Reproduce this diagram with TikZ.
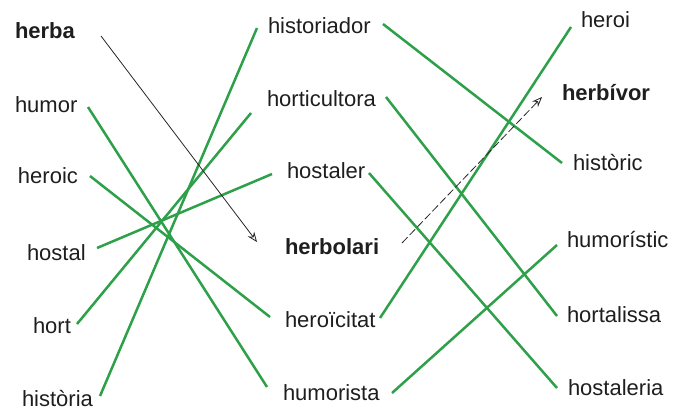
\documentclass[tikz,border=0pt]{standalone}
\usepackage{fontspec}
\setmainfont{Liberation Sans}
\usetikzlibrary{arrows.meta}
\definecolor{lgreen}{RGB}{46,160,74}
\definecolor{txt}{RGB}{30,30,30}
\tikzset{
  word/.style={anchor=base west, inner sep=0pt, outer sep=0pt, text=txt, font=\fontsize{11}{13}\selectfont},
  bword/.style={word, font=\fontsize{11}{13}\selectfont\bfseries},
  link/.style={draw=lgreen, line width=1.25pt},
  guide/.style={draw=black!85, line width=0.4pt, -{Stealth[length=5pt,width=4pt,open]}},
}
\begin{document}
\begin{tikzpicture}[x=0.5pt,y=-0.5pt]
\useasboundingbox (0,0) rectangle (673,408);
% left column
\node[bword] (herba) at (15,38) {herba};
\node[word] (humor) at (15,112) {humor};
\node[word] (heroic) at (18,183) {heroic};
\node[word] (hostal) at (27,260) {hostal};
\node[word] (hort) at (33,333) {hort};
\node[word] (historia) at (22,406) {història};
% middle column
\node[word] (historiador) at (268,33) {historiador};
\node[word] (horticultora) at (267,106) {horticultora};
\node[word] (hostaler) at (287,178) {hostaler};
\node[bword] (herbolari) at (285,254) {herbolari};
\node[word] (heroicitat) at (285,327) {heroïcitat};
\node[word] (humorista) at (283,400) {humorista};
% right column
\node[word] (heroi) at (581,27) {heroi};
\node[bword] (herbivor) at (562,100) {herbívor};
\node[word] (historic) at (573,170) {històric};
\node[word] (humoristic) at (567,247) {humorístic};
\node[word] (hortalissa) at (567,322) {hortalissa};
\node[word] (hostaleria) at (568,395) {hostaleria};
% connector ends
\coordinate (herba-e) at (101,36);
\coordinate (herbolari-w) at (257,242);
\coordinate (humor-e) at (88,107);
\coordinate (heroic-e) at (90,176);
\coordinate (hostal-e) at (97,248);
\coordinate (hort-e) at (77,324);
\coordinate (historia-e) at (100,396);
\coordinate (historiador-w) at (257,28);
\coordinate (horticultora-w) at (251,113);
\coordinate (hostaler-w) at (272,174);
\coordinate (heroicitat-w) at (270,317);
\coordinate (humorista-w) at (267,387);
\coordinate (historiador-e) at (383,24);
\coordinate (horticultora-e) at (386,97);
\coordinate (hostaler-e) at (369,173);
\coordinate (herbolari-e) at (402,243);
\coordinate (heroicitat-e) at (380,318);
\coordinate (humorista-e) at (392,393);
\coordinate (heroi-w) at (571,27);
\coordinate (herbivor-w) at (542,97);
\coordinate (historic-w) at (562,163);
\coordinate (humoristic-w) at (557,245);
\coordinate (hortalissa-w) at (557,316);
\coordinate (hostaleria-w) at (557,388);
% green links
\draw[link] (humor-e) -- (humorista-w);
\draw[link] (heroic-e) -- (heroicitat-w);
\draw[link] (hostal-e) -- (hostaler-w);
\draw[link] (hort-e) -- (horticultora-w);
\draw[link] (historia-e) -- (historiador-w);
\draw[link] (historiador-e) -- (historic-w);
\draw[link] (horticultora-e) -- (hortalissa-w);
\draw[link] (hostaler-e) -- (hostaleria-w);
\draw[link] (heroicitat-e) -- (heroi-w);
\draw[link] (humorista-e) -- (humoristic-w);
% guide arrows
\draw[guide] (herba-e) -- (herbolari-w);
\draw[guide, dash pattern=on 4pt off 1.5pt] (herbolari-e) -- (herbivor-w);
\end{tikzpicture}
\end{document}
